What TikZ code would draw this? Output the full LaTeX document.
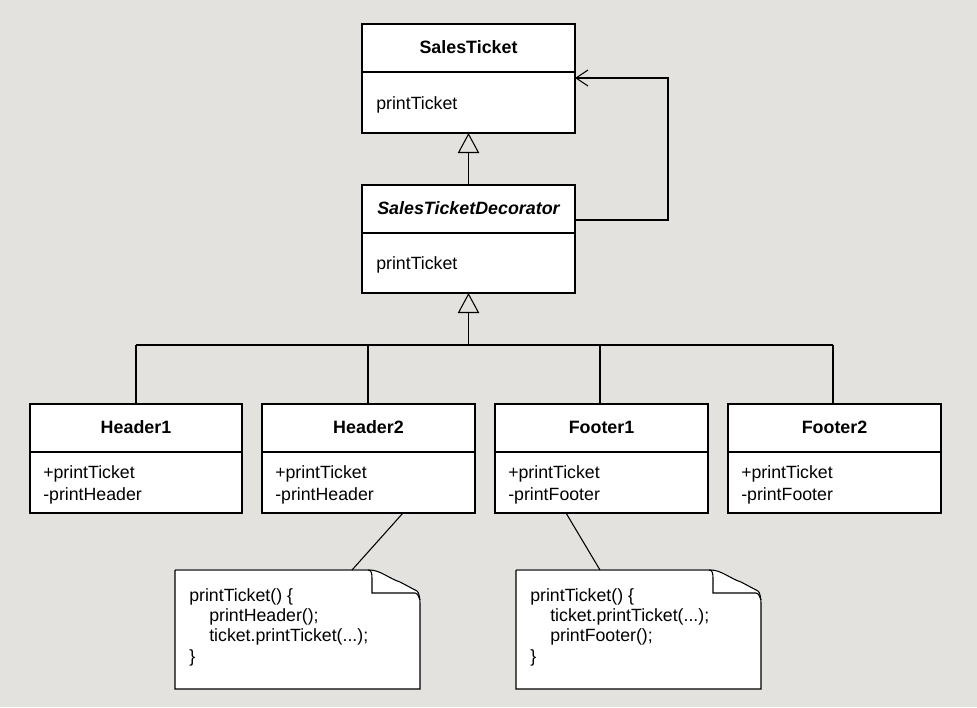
\documentclass[tikz,border=0pt]{standalone}
\usepackage{fontspec}
\setmainfont{Liberation Sans}
\usetikzlibrary{arrows.meta}
\definecolor{bg}{HTML}{E3E2DF}
\tikzset{
  x=0.75pt, y=-0.75pt,
  box/.style={draw=black, fill=white, line width=0.8pt},
  edge/.style={draw=black, line width=0.8pt},
  title/.style={font=\bfseries\fontsize{13.4}{15}\selectfont, anchor=base, inner sep=0pt},
  % multi-line nodes: the base anchor sits on the last line
  body/.style={font=\fontsize{13.3}{16.5}\selectfont, anchor=base west, align=left, inner sep=0pt},
  notetext/.style={font=\fontsize{13.3}{15.25}\selectfont, anchor=base west, align=left, inner sep=0pt},
  inherit/.style={-{Triangle[open, length=15pt, width=16pt]}, line width=0.8pt},
  uses/.style={-{Straight Barb[length=9pt, width=12pt]}, line width=0.8pt},
}
\newcommand{\umlclass}[7]{%
  % #1 name, #2 x0, #3 y0, #4 x1, #5 y1, #6 divider y, #7 title
  \path[box] (#2,#3) rectangle (#4,#5);
  \draw[edge] (#2,#6) -- (#4,#6);
  \coordinate (#1-top) at ({(#2+#4)/2},#3);
  \coordinate (#1-bot) at ({(#2+#4)/2},#5);
  \node[title] (#1-title) at ({(#2+#4)/2},{(#3+#6)/2+5}) {#7};
}
\newcommand{\umlnote}[3]{%
  % #1 name, #2 x0, #3 y0 (note is 245 x 119)
  \path[fill=white] (#2,#3) -- ++(195,0) .. controls +(10,0) and +(-10,-3) .. ++(30,12)
     -- ++(17,9) .. controls +(2,1) and +(0,-4) .. ++(3,7) -- (#2+245,#3+119) -- (#2,#3+119) -- cycle;
  \draw[line width=0.8pt, draw=black!60] (#2,#3) -- ++(195,0);
  \draw[line width=0.8pt] (#2+195,#3) .. controls +(10,0) and +(-10,-3) .. ++(30,12)
     -- ++(17,9) .. controls +(2,1) and +(0,-4) .. (#2+245,#3+33) -- (#2+245,#3+119) -- (#2,#3+119) -- (#2,#3);
  \draw[line width=0.8pt] (#2+193,#3) .. controls +(4,0) and +(0,-6) .. (#2+197,#3+10)
     -- (#2+197,#3+23) -- (#2+240,#3+23) .. controls +(3,0) and +(-1,-2) .. (#2+245,#3+30);
  \coordinate (#1-in) at (#2,#3);
}

\begin{document}
\begin{tikzpicture}
  \useasboundingbox[fill=bg] (0,0) rectangle (977,707);

  % class boxes
  \umlclass{st}{362}{24}{575}{133}{72}{SalesTicket}
  \node[body] (st-ops) at (376,109) {printTicket};

  \path[box] (362,185) rectangle (575,293);
  \draw[edge] (362,233) -- (575,233);
  \coordinate (std-top) at (468.5,185);
  \coordinate (std-bot) at (468.5,293);
  \node[title, font=\bfseries\itshape\fontsize{13.4}{15}\selectfont] (std-title) at (468.5,214) {SalesTicketDecorator};
  \node[body] (std-ops) at (376,269) {printTicket};

  \umlclass{h1}{30}{404}{242}{513}{452}{Header1}
  \node[body] (h1-ops) at (43,500) {+printTicket\\-printHeader};
  \umlclass{h2}{262}{404}{475}{513}{452}{Header2}
  \node[body] (h2-ops) at (275,500) {+printTicket\\-printHeader};
  \umlclass{f1}{495}{404}{708}{513}{452}{Footer1}
  \node[body] (f1-ops) at (508,500) {+printTicket\\-printFooter};
  \umlclass{f2}{728}{404}{941}{513}{452}{Footer2}
  \node[body] (f2-ops) at (741,500) {+printTicket\\-printFooter};

  % generalisation: decorator -> ticket
  \draw[inherit] (std-top) -- (st-bot);

  % generalisation tree: concrete decorators -> decorator
  \coordinate (bus) at (468.5,345);
  \draw[edge] (136,345) -- (833,345);
  \draw[edge] (136,345) -- (136,404);
  \draw[edge] (368,345) -- (368,404);
  \draw[edge] (600,345) -- (600,404);
  \draw[edge] (833,345) -- (833,404);
  \draw[inherit] (bus) -- (std-bot);

  % aggregation: decorator wraps a ticket
  \coordinate (std-right) at (575,220);
  \coordinate (st-right) at (575,78);
  \draw[uses] (std-right) -- (668,220) -- (668,78) -- (st-right);

  % notes
  \umlnote{n1}{175}{570}
  \node[notetext] (n1-text) at (189,662) {printTicket() \{\\\hspace{15pt}printHeader();\\\hspace{15pt}ticket.printTicket(...);\\\}};
  \umlnote{n2}{516}{570}
  \node[notetext] (n2-text) at (530,662) {printTicket() \{\\\hspace{15pt}ticket.printTicket(...);\\\hspace{15pt}printFooter();\\\}};

  \coordinate (h2-anchor) at (403,513);
  \coordinate (n1-anchor) at (352,570);
  \coordinate (f1-anchor) at (566,513);
  \coordinate (n2-anchor) at (600,570);
  \draw[edge] (h2-anchor) -- (n1-anchor);
  \draw[edge] (f1-anchor) -- (n2-anchor);
\end{tikzpicture}
\end{document}
